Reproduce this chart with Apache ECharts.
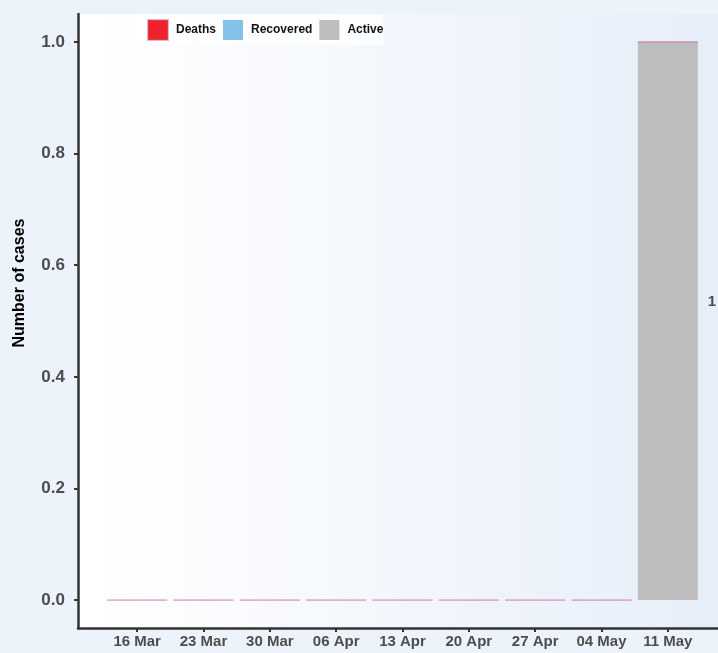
<!DOCTYPE html>
<html>
<head>
<meta charset="utf-8">
<script src="https://cdn.jsdelivr.net/npm/echarts@6/dist/echarts.min.js"></script>
<style>
html,body{margin:0;padding:0;background:#edf3fb;}
#chart{width:718px;height:653px;}
</style>
</head>
<body>
<div id="chart"></div>
<script>
const categories = ['16 Mar','23 Mar','30 Mar','06 Apr','13 Apr','20 Apr','27 Apr','04 May','11 May'];
const deaths    = [0,0,0,0,0,0,0,0,0];
const recovered = [0,0,0,0,0,0,0,0,0];
const active    = [0,0,0,0,0,0,0,0,1];
const yTicks = [0,0.2,0.4,0.6,0.8,1.0];
const totals = categories.map((c,i)=>deaths[i]+recovered[i]+active[i]);

const chart = echarts.init(document.getElementById('chart'));
const labelColor = '#4d4d4d';
const font = 'Liberation Sans, Arial';
const option = {
  backgroundColor: '#edf3fb',
  animation: false,
  grid: [
    {
      left: 78, right: 0, top: 14, bottom: 25,
      show: true, borderWidth: 0,
      backgroundColor: new echarts.graphic.LinearGradient(0,0,1,0,[
        {offset:0,color:'#ffffff'},{offset:1,color:'#e6eef9'}
      ])
    },
    { left: 104, right: 17, top: 14, bottom: 25 }
  ],
  legend: {
    left: 136, top: 14,
    padding: [5,0,4,11],
    backgroundColor: 'rgba(255,255,255,0.75)',
    itemWidth: 20, itemHeight: 20, itemGap: 7,
    icon: 'rect',
    data: ['Deaths','Recovered','Active'],
    textStyle: {fontFamily: font, fontWeight:'bold', fontSize:12, color:'#111', padding:[0,0,0,3]}
  },
  xAxis: [
    {
      gridIndex: 0, type: 'value', min: 0, max: 1,
      splitLine: {show:false}, axisTick: {show:false}, axisLabel: {show:false},
      axisLine: {show:true, onZero:false, lineStyle:{color:'#333', width:2.5}}
    },
    {
      gridIndex: 1, type: 'category', data: categories, boundaryGap: true,
      axisLine: {show:false, onZero:false},
      axisTick: {show:true, alignWithLabel:true, length:4, lineStyle:{color:'#333', width:2}},
      axisLabel: {fontFamily: font, fontWeight:'bold', fontSize:15, color: labelColor, margin: 6, interval: 0}
    }
  ],
  yAxis: [
    {
      gridIndex: 0, type: 'value', min: -0.05, max: 1.05,
      name: 'Number of cases', nameLocation: 'middle', nameGap: 50,
      nameTextStyle: {fontFamily: font, fontWeight:'bold', fontSize:16, color:'#000', padding:[0,0,0,76]},
      splitLine: {show:false},
      axisLine: {show:true, onZero:false, lineStyle:{color:'#333', width:2.5}},
      axisTick: {show:true, customValues: yTicks, length:4, lineStyle:{color:'#333', width:2}},
      axisLabel: {
        customValues: yTicks,
        formatter: v => v.toFixed(1),
        fontFamily: font, fontWeight:'bold', fontSize:17, color: labelColor, margin: 13
      }
    },
    {
      gridIndex: 1, type: 'value', min: -0.05, max: 1.05, show: false,
      splitLine: {show:false}
    }
  ],
  series: [
    {
      name: 'Active', type: 'bar', stack: 'total', barWidth: 60,
      xAxisIndex: 1, yAxisIndex: 1,
      itemStyle: {color:'#bdbdbd'},
      data: active,
      label: {
        show: true, position: 'right', distance: 10, offset: [0,-19],
        formatter: p => totals[p.dataIndex] > 0 ? String(totals[p.dataIndex]) : '',
        fontFamily: font, fontWeight:'bold', fontSize:15, color: labelColor
      }
    },
    {
      name: 'Recovered', type: 'bar', stack: 'total', barWidth: 60,
      xAxisIndex: 1, yAxisIndex: 1,
      itemStyle: {color:'#85c1e9'},
      data: recovered
    },
    {
      name: 'Deaths', type: 'bar', stack: 'total', barWidth: 60,
      xAxisIndex: 1, yAxisIndex: 1,
      itemStyle: {color:'#ee2228', borderColor:'rgba(200,90,140,0.45)', borderWidth:1},
      data: deaths
    }
  ]
};
chart.setOption(option);
</script>
</body>
</html>
